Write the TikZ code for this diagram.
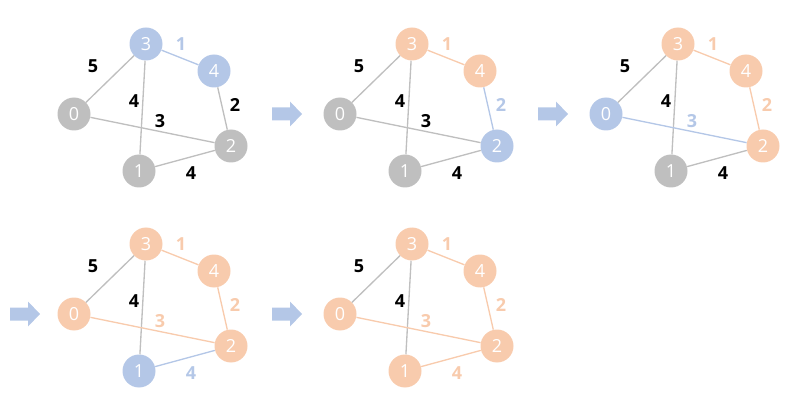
\documentclass[tikz,border=0pt]{standalone}
\usepackage{fontspec}
\setmainfont{Open Sans}
\definecolor{cg}{HTML}{BFBFBF}
\definecolor{cb}{HTML}{B4C7E7}
\definecolor{co}{HTML}{F8CBAD}
\def\graystr{cg}
\newcommand\setedgecol[2]{\colorlet{e#1}{#2}\def\tmpa{#2}\ifx\tmpa\graystr\colorlet{l#1}{black}\else\colorlet{l#1}{#2}\fi}
\newcommand\edgecols[6]{\setedgecol{30}{#1}\setedgecol{34}{#2}\setedgecol{31}{#3}\setedgecol{42}{#4}\setedgecol{02}{#5}\setedgecol{12}{#6}}
\newcommand\nodecols[5]{\colorlet{n0}{#1}\colorlet{n1}{#2}\colorlet{n2}{#3}\colorlet{n3}{#4}\colorlet{n4}{#5}}
\newcommand\drawgraph[3]{%
\begin{scope}[shift={(#1,#2)}]
\node[vert,fill=n0] (#3-0) at (74,114) {0};
\node[vert,fill=n1] (#3-1) at (139,171) {1};
\node[vert,fill=n2] (#3-2) at (231,146) {2};
\node[vert,fill=n3] (#3-3) at (146,44) {3};
\node[vert,fill=n4] (#3-4) at (214,71) {4};
\draw[edgeline,draw=e30] (#3-3) -- (#3-0);
\draw[edgeline,draw=e34] (#3-3) -- (#3-4);
\draw[edgeline,draw=e31] (#3-3) -- (#3-1);
\draw[edgeline,draw=e42] (#3-4) -- (#3-2);
\draw[edgeline,draw=e02] (#3-0) -- (#3-2);
\draw[edgeline,draw=e12] (#3-1) -- (#3-2);
\node[elab,text=l30] (#3-l30) at (93,66) {5};
\node[elab,text=l34] (#3-l34) at (181,44) {1};
\node[elab,text=l31] (#3-l31) at (134,101) {4};
\node[elab,text=l42] (#3-l42) at (235,105) {2};
\node[elab,text=l02] (#3-l02) at (160,121) {3};
\node[elab,text=l12] (#3-l12) at (191,173) {4};
\end{scope}}
\newcommand\flowarrow[2]{%
\fill[flowcol] (#1,#2-6.5) -- (#1+18,#2-6.5) -- (#1+18,#2-12.5) -- (#1+30,#2) -- (#1+18,#2+12.5) -- (#1+18,#2+6.5) -- (#1,#2+6.5) -- cycle;}
\begin{document}
\begin{tikzpicture}[x=0.75pt,y=-0.75pt,
 vert/.style={circle,minimum size=24.75pt,inner sep=0pt,text=white,font=\fontsize{13.5}{16}\selectfont},
 elab/.style={font=\fontsize{13.5}{16}\selectfont\bfseries,inner sep=0pt},
 edgeline/.style={line width=1pt},
 flowcol/.style={fill=cb}]
\useasboundingbox (0,0) rectangle (807,417);
% graph 1
\nodecols{cg}{cg}{cg}{cb}{cb}
\edgecols{cg}{cb}{cg}{cg}{cg}{cg}
\drawgraph{0}{0}{ga}
% graph 2
\nodecols{cg}{cg}{cb}{co}{co}
\edgecols{cg}{co}{cg}{cb}{cg}{cg}
\drawgraph{266}{0}{gb}
% graph 3
\nodecols{cb}{cg}{co}{co}{co}
\edgecols{cg}{co}{cg}{co}{cb}{cg}
\drawgraph{532}{0}{gc}
% graph 4
\nodecols{co}{cb}{co}{co}{co}
\edgecols{cg}{co}{cg}{co}{co}{cb}
\drawgraph{0}{200}{gd}
% graph 5
\nodecols{co}{co}{co}{co}{co}
\edgecols{cg}{co}{cg}{co}{co}{co}
\drawgraph{266}{200}{ge}
% arrows
\flowarrow{272}{114}
\flowarrow{538}{114}
\flowarrow{10}{314}
\flowarrow{272}{314}
\end{tikzpicture}
\end{document}
